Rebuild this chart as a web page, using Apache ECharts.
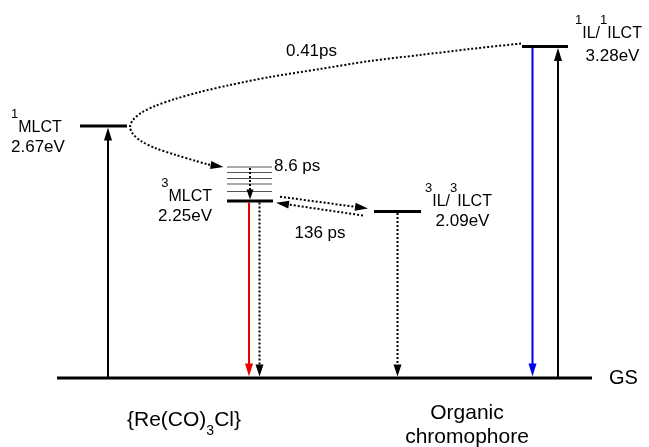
<!DOCTYPE html>
<html><head><meta charset="utf-8">
<script src="https://cdn.jsdelivr.net/npm/echarts@6/dist/echarts.min.js"></script>
<style>html,body{margin:0;padding:0;background:#fff}#c{width:649px;height:447px}</style>
</head><body><div id="c"></div>
<script>
// ---------------- data (diagram units: x across, height above GS) ----------------
const levelKeys   = ['GS', '1MLCT', '3MLCT', '3IL', '1IL'];
const levelHeight = [0, 252, 177, 166.5, 331.5];
const levelStart  = [57, 80, 227, 374, 522];
const levelEnd    = [592, 127, 273, 421, 568];
const levelName   = ['GS', '{s|1}{m|MLCT}', '{s|3}{m|MLCT}', '{s|3}{m|IL/}{s|3}{m|ILCT}', '{s|1}{m|IL/}{s|1}{m|ILCT}'];
const levelEnergy = ['', '2.67eV', '2.25eV', '2.09eV', '3.28eV'];

const vibHeight = [211, 205.5, 199.5, 194, 186.5];
const vibStart  = [227, 227, 227, 227, 227];
const vibEnd    = [272, 272, 272, 272, 272];

const transKind = ['abs', 'emRed', 'nr', 'nr', 'emBlue', 'abs', 'relax', 'isc', 'isc', 'ic'];
const transX1   = [108, 249, 259.5, 397.5, 532.5, 558, 250, 280, 363, 208];
const transH1   = [0, 175.5, 175.5, 165, 330, 0, 210, 181.3, 162.5, 213.5];
const transX2   = [108, 249, 259.5, 397.5, 532.5, 558, 250, 368, 276, 223.5];
const transH2   = [250.5, 1.5, 1.5, 1.5, 1.5, 330, 178.5, 169.5, 175.3, 211];

const curveX = [521, 470, 420, 370, 320, 270, 230, 200, 175, 155, 141, 133, 130, 133, 141, 155, 176, 196, 208];
const curveH = [334.5, 329, 323, 317, 309, 301, 293, 286, 279, 272, 265, 258, 251, 244, 237, 230, 223, 217, 213.5];

const timeLabels   = ['0.41ps', '8.6 ps', '136 ps'];
const bottomLabels = ['{m|{Re(CO)}{b|3}{m|Cl}}', 'Organic\nchromophore'];

// ---------------- layout / styles ----------------
const FONT = 'Liberation Sans, Arial, sans-serif';
const arrowStyle = {
  abs:    {color: '#000', width: 2, dash: null,  hl: 13, hw: 8},
  emRed:  {color: '#ee0000', width: 2, dash: null, hl: 13, hw: 8},
  emBlue: {color: '#0000ee', width: 2, dash: null, hl: 13, hw: 8},
  nr:     {color: '#000', width: 2, dash: [2, 2], hl: 12, hw: 8},
  relax:  {color: '#000', width: 2, dash: [2, 2], hl: 10, hw: 7},
  isc:    {color: '#000', width: 2, dash: [2, 2], hl: 13, hw: 8},
  ic:     {color: '#000', width: 2, dash: [2, 2], hl: 13, hw: 8}
};
const richLevel = {
  s: {fontSize: 13, fontFamily: FONT, lineHeight: 13, verticalAlign: 'top', fill: '#000'},
  m: {fontSize: 16, fontFamily: FONT, lineHeight: 16, padding: [12, 0, 0, 0], verticalAlign: 'top', fill: '#000'}
};
const richBottom = {
  m: {fontSize: 21, fontFamily: FONT, lineHeight: 21, verticalAlign: 'top', fill: '#000'},
  b: {fontSize: 14, fontFamily: FONT, lineHeight: 14, padding: [15, 0, 0, 0], verticalAlign: 'top', fill: '#000'}
};
// text anchors: [x, h, align, verticalAlign]
const nameAnchor   = [[609, 0, 'left', 'middle'], [11, 270.5, 'left', 'top'], [212, 201.5, 'right', 'top'], [425, 196.5, 'left', 'top'], [575, 364.5, 'left', 'top']];
const energyAnchor = [null, [11, 231, 'left', 'middle'], [212, 161.5, 'right', 'middle'], [462.5, 156.5, 'center', 'middle'], [612.5, 321.5, 'center', 'middle']];
const timeAnchor   = [[311.5, 327, 'center', 'middle'], [274, 211.5, 'left', 'middle'], [320, 145, 'center', 'middle']];
const bottomAnchor = [[184, -31.5, 'center', 'top'], [467, -23.5, 'center', 'top']];

// ---------------- series data ----------------
const levelData = levelKeys.map((k, i) => [levelStart[i], levelEnd[i], levelHeight[i], 3]);
const vibData = vibHeight.map((h, i) => [vibStart[i], vibEnd[i], h, 1]);
const transData = transKind.map((k, i) => [transX1[i], transH1[i], transX2[i], transH2[i]]);
const curveData = curveX.map((x, i) => [x, curveH[i]]);

const texts = [];
levelKeys.forEach((k, i) => {
  const a = nameAnchor[i];
  texts.push({a, text: levelName[i], rich: i === 0 ? null : richLevel, size: i === 0 ? 20 : 16});
  if (energyAnchor[i]) texts.push({a: energyAnchor[i], text: levelEnergy[i], size: 17});
});
timeLabels.forEach((t, i) => texts.push({a: timeAnchor[i], text: t, size: 17}));
texts.push({a: bottomAnchor[0], text: bottomLabels[0], rich: richBottom, size: 21});
texts.push({a: bottomAnchor[1], text: bottomLabels[1], size: 21, lineHeight: 24});

const chart = echarts.init(document.getElementById('c'), null, {renderer: 'canvas'});
chart.setOption({
  animation: false,
  backgroundColor: '#fff',
  grid: {left: 0, right: 0, top: 0, bottom: 0},
  xAxis: {type: 'value', min: 0, max: 649, show: false},
  yAxis: {type: 'value', min: -69, max: 378, show: false},
  series: [
    {
      type: 'custom', name: 'levels', data: levelData.concat(vibData), silent: true,
      renderItem(params, api) {
        const p1 = api.coord([api.value(0), api.value(2)]);
        const p2 = api.coord([api.value(1), api.value(2)]);
        const w = api.value(3);
        return {type: 'line', shape: {x1: p1[0], y1: p1[1], x2: p2[0], y2: p2[1]},
          style: {stroke: w > 1 ? '#000' : '#555', lineWidth: w}};
      }
    },
    {
      type: 'line', name: 'curve', data: curveData, smooth: 0.3, showSymbol: false, symbol: 'none', silent: true,
      lineStyle: {color: '#000', width: 2, type: [2, 2]}
    },
    {
      type: 'custom', name: 'arrows', data: transData, silent: true,
      renderItem(params, api) {
        const st = arrowStyle[transKind[params.dataIndex]];
        const p1 = api.coord([api.value(0), api.value(1)]);
        const p2 = api.coord([api.value(2), api.value(3)]);
        const dx = p2[0] - p1[0], dy = p2[1] - p1[1];
        const L = Math.hypot(dx, dy) || 1;
        const ux = dx / L, uy = dy / L;
        const bx = p2[0] - ux * st.hl, by = p2[1] - uy * st.hl;
        const left = [bx - uy * st.hw / 2, by + ux * st.hw / 2];
        const right = [bx + uy * st.hw / 2, by - ux * st.hw / 2];
        const children = [];
        if (L > st.hl) {
          children.push({type: 'line', shape: {x1: p1[0], y1: p1[1], x2: bx + ux, y2: by + uy},
            style: {stroke: st.color, lineWidth: st.width, lineDash: st.dash}});
        }
        children.push({type: 'polygon', shape: {points: [p2, left, right]}, style: {fill: st.color}});
        return {type: 'group', children};
      }
    },
    {
      type: 'custom', name: 'labels', data: texts.map((t, i) => [t.a[0], t.a[1], i]), silent: true,
      renderItem(params, api) {
        const t = texts[params.dataIndex];
        const p = api.coord([api.value(0), api.value(1)]);
        const style = {text: t.text, x: p[0], y: p[1], align: t.a[2], verticalAlign: t.a[3],
          fontSize: t.size, fontFamily: FONT, fill: '#000'};
        if (t.rich) style.rich = t.rich;
        if (t.lineHeight) style.lineHeight = t.lineHeight;
        return {type: 'text', style};
      }
    }
  ]
});
</script></body></html>
